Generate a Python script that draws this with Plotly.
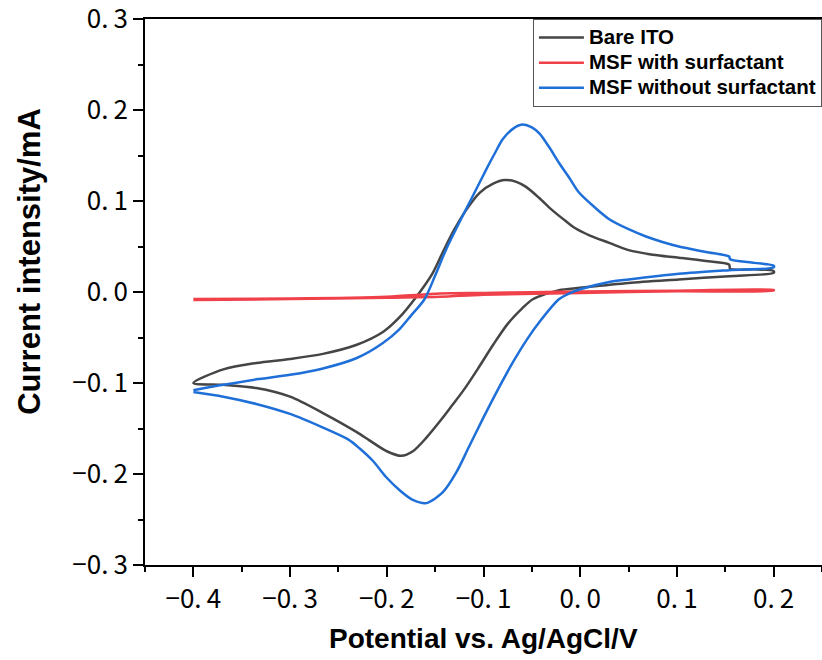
import plotly.graph_objects as go

# cyclic voltammograms (potential in V, current in mA)
# each loop: forward scan -0.4 -> 0.2, then reverse scan 0.2 -> -0.4
bare_E = [-0.400, -0.369, -0.335, -0.300, -0.266, -0.231, -0.204, -0.187, -0.170, -0.153,
          -0.142, -0.130, -0.118, -0.104, -0.090, -0.078, -0.066, -0.056, -0.042, -0.029,
          -0.015, -0.005, 0.010, 0.030, 0.050, 0.075, 0.102, 0.130, 0.154, 0.155,
          0.180, 0.200,
          0.200, 0.154, 0.102, 0.050, 0.000, -0.022, -0.049, -0.060, -0.075, -0.090,
          -0.105, -0.120, -0.132, -0.142, -0.159, -0.173, -0.185, -0.200, -0.218, -0.231,
          -0.266, -0.300, -0.335, -0.369, -0.400]
bare_I = [-0.100, -0.085, -0.078, -0.0736, -0.068, -0.058, -0.044, -0.028, -0.006, 0.020,
          0.044, 0.069, 0.090, 0.109, 0.119, 0.123, 0.121, 0.1155, 0.103, 0.090,
          0.078, 0.070, 0.062, 0.054, 0.046, 0.041, 0.0377, 0.034, 0.030, 0.0255,
          0.025, 0.023,
          0.021, 0.0174, 0.0138, 0.010, 0.0046, 0.002, -0.008, -0.018, -0.035, -0.058,
          -0.083, -0.107, -0.124, -0.138, -0.160, -0.175, -0.180, -0.175, -0.163, -0.154,
          -0.133, -0.115, -0.1055, -0.102, -0.100]

with_E = [-0.400, -0.300, -0.200, -0.145, -0.100, -0.050, 0.000, 0.100, 0.200,
          0.200, 0.100, 0.000, -0.100, -0.145, -0.200, -0.300, -0.400]
with_I = [-0.0078, -0.0072, -0.0052, -0.0017, -0.0010, -0.0002, 0.0006, 0.0015, 0.0022,
          0.0015, 0.0008, -0.0010, -0.0030, -0.0053, -0.0062, -0.0078, -0.0088]

without_E = [-0.400, -0.369, -0.335, -0.300, -0.266, -0.231, -0.204, -0.187, -0.175, -0.161,
             -0.150, -0.139, -0.128, -0.118, -0.107, -0.097, -0.088, -0.080, -0.070, -0.060,
             -0.050, -0.042, -0.032, -0.022, -0.011, -0.001, 0.015, 0.030, 0.050, 0.068,
             0.085, 0.102, 0.130, 0.154, 0.155, 0.180, 0.200,
             0.200, 0.154, 0.102, 0.050, 0.030, 0.000, -0.010, -0.022, -0.040, -0.055,
             -0.070, -0.085, -0.101, -0.115, -0.128, -0.142, -0.159, -0.173, -0.187, -0.201,
             -0.214, -0.228, -0.240, -0.266, -0.300, -0.335, -0.369, -0.400]
without_I = [-0.108, -0.102, -0.096, -0.091, -0.084, -0.0725, -0.056, -0.041, -0.026, -0.008,
             0.018, 0.046, 0.070, 0.091, 0.114, 0.135, 0.153, 0.168, 0.179, 0.184,
             0.181, 0.174, 0.159, 0.142, 0.125, 0.109, 0.093, 0.080, 0.069, 0.061,
             0.055, 0.050, 0.044, 0.039, 0.036, 0.032, 0.029,
             0.027, 0.024, 0.020, 0.0138, 0.011, 0.003, -0.001, -0.008, -0.030, -0.052,
             -0.078, -0.107, -0.140, -0.170, -0.198, -0.220, -0.232, -0.2285, -0.2175, -0.203,
             -0.186, -0.172, -0.162, -0.149, -0.134, -0.123, -0.115, -0.110]

names = ["Bare ITO", "MSF with surfactant", "MSF without surfactant"]
colors = ["#454545", "#f0414a", "#1f6fd8"]

x_ticks = [-0.4, -0.3, -0.2, -0.1, 0.0, 0.1, 0.2]
x_labels = ["\u22120.\u20094", "\u22120.\u20093", "\u22120.\u20092", "\u22120.\u20091",
            "0.\u20090", "0.\u20091", "0.\u20092"]
x_minor = [-0.45, -0.35, -0.25, -0.15, -0.05, 0.05, 0.15, 0.25]
y_ticks = [-0.3, -0.2, -0.1, 0.0, 0.1, 0.2, 0.3]
y_labels = ["\u22120.\u20093", "\u22120.\u20092", "\u22120.\u20091", "0.\u20090",
            "0.\u20091", "0.\u20092", "0.\u20093"]
y_minor = [-0.25, -0.15, -0.05, 0.05, 0.15, 0.25]

fig = go.Figure()
for xs, ys, name, col in zip([bare_E, with_E, without_E], [bare_I, with_I, without_I], names, colors):
    # bigger glyphs than the legend font so rows stay tight like the original
    label = "<b><span style='font-size:20.5px'>" + name + "</span></b>"
    fig.add_trace(go.Scatter(x=xs, y=ys, name=label, mode="lines",
                             line=dict(color=col, width=2.5, shape="spline", smoothing=0.8)))

tickfont = dict(family="Noto Sans CJK JP", size=26, color="black")
axis = dict(showgrid=False, zeroline=False, showline=True, linecolor="black", linewidth=1.5,
            ticks="outside", ticklen=10, tickwidth=1.5, tickcolor="black", tickfont=tickfont,
            automargin=False, ticklabeloverflow="allow")

fig.update_xaxes(range=[-0.45, 0.25], tickmode="array", tickvals=x_ticks, ticktext=x_labels,
                 mirror=True,
                 minor=dict(tickmode="array", tickvals=x_minor, ticks="outside", ticklen=5,
                            tickwidth=1.5, tickcolor="black", showgrid=False),
                 **axis)
fig.update_yaxes(range=[-0.3, 0.3], tickmode="array", tickvals=y_ticks, ticktext=y_labels,
                 minor=dict(tickmode="array", tickvals=y_minor, ticks="outside", ticklen=5,
                            tickwidth=1.5, tickcolor="black", showgrid=False),
                 **axis)

fig.add_annotation(text="<b>Potential vs. Ag/AgCl/V</b>", xref="paper", yref="paper",
                   x=0.5, y=-0.134, showarrow=False, xanchor="center", yanchor="middle",
                   font=dict(family="Liberation Sans", size=28, color="black"))
fig.add_annotation(text="<b>Current intensity/mA</b>", xref="paper", yref="paper",
                   x=-0.17, y=0.557, showarrow=False, textangle=-90,
                   xanchor="center", yanchor="middle",
                   font=dict(family="Liberation Sans", size=31, color="black"))

fig.update_layout(
    width=822, height=660,
    margin=dict(l=145, r=0, t=19, b=95, autoexpand=False),
    plot_bgcolor="white", paper_bgcolor="white",
    showlegend=True,
    legend=dict(x=0.573, y=1, xanchor="left", yanchor="top",
                bordercolor="#555555", borderwidth=1, bgcolor="white",
                tracegroupgap=0, itemwidth=45,
                font=dict(family="Liberation Sans", size=17, color="black")),
)

# drop the default page margin so the figure sits at the window's corner
fig.write_html("out.html", config={"displayModeBar": False},
               post_script="document.body.style.margin='0';")
